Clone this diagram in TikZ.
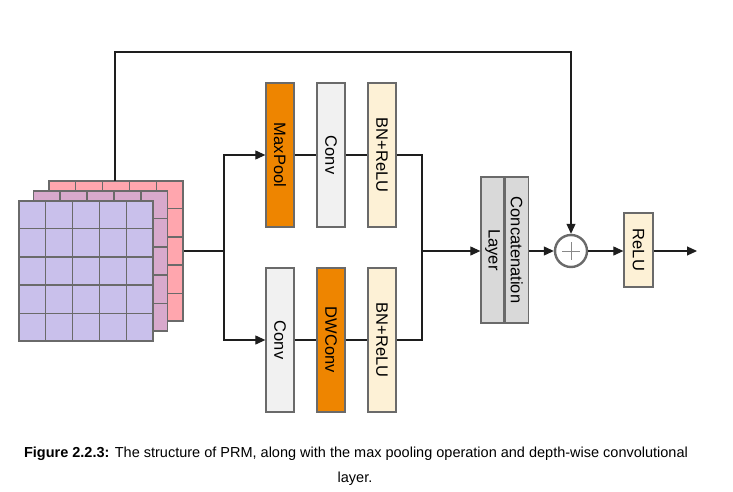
\documentclass[tikz,border=0pt]{standalone}
\usepackage{fontspec}
\setmainfont{Liberation Sans}
\usetikzlibrary{arrows.meta,calc}
\definecolor{pinkc}{HTML}{FFA6AE}
\definecolor{mauvec}{HTML}{D8A9CC}
\definecolor{lavc}{HTML}{C9C0EB}
\definecolor{orangec}{HTML}{EE8500}
\definecolor{convc}{HTML}{F1F1F1}
\definecolor{bnc}{HTML}{FDF1D6}
\definecolor{catc}{HTML}{D9D9D9}
\definecolor{edgec}{HTML}{6A6A6A}
\definecolor{linec}{HTML}{1E1E1E}
\tikzset{
  layerbox/.style={draw=edgec, line width=1.3pt, minimum width=28pt, minimum height=144pt, inner sep=0pt,
    font=\fontsize{16.5}{18}\selectfont},
  gridbox/.style={draw=edgec, line width=1.3pt, minimum width=134pt, minimum height=140pt, inner sep=0pt},
  gridline/.style={draw=edgec, line width=1.3pt},
  conn/.style={draw=linec, line width=1.1pt},
  arr/.style={conn, -{Triangle[length=10pt,width=9pt]}},
}
\begin{document}
\begin{tikzpicture}[x=1pt,y=-1pt]
\useasboundingbox (0,0) rectangle (733,492);
% feature map stack (back to front)
\foreach \g/\gx/\gy/\gc in {g3/116/251/pinkc, g2/100.5/261/mauvec, g1/86/271/lavc}{
  \node[gridbox, fill=\gc] (\g) at (\gx,\gy) {};
  \foreach \i in {1,...,4}{
    \draw[gridline] ($(\g.north west)!\i/5!(\g.north east)$) -- ($(\g.south west)!\i/5!(\g.south east)$);
    \draw[gridline] ($(\g.north west)!\i/5!(\g.south west)$) -- ($(\g.north east)!\i/5!(\g.south east)$);
  }
}
% branches
\node[layerbox, fill=orangec] (mp) at (280,155) {\rotatebox{-90}{MaxPool}};
\node[layerbox, fill=convc] (c1) at (331,155) {\rotatebox{-90}{Conv}};
\node[layerbox, fill=bnc] (b1) at (382,155) {\rotatebox{-90}{BN+ReLU}};
\node[layerbox, fill=convc] (c2) at (280,340) {\rotatebox{-90}{Conv}};
\node[layerbox, fill=orangec] (dw) at (331,340) {\rotatebox{-90}{DWConv}};
\node[layerbox, fill=bnc] (b2) at (382,340) {\rotatebox{-90}{BN+ReLU}};
\node[layerbox, fill=catc, minimum width=23pt, minimum height=146pt] (catL) at (492.5,250) {\rotatebox{-90}{Layer}};
\node[layerbox, fill=catc, minimum width=23pt, minimum height=146pt, anchor=west] (catR) at (catL.east) {\rotatebox{-90}{Concatenation}};
\node[draw=edgec, line width=2.4pt, circle, minimum size=32pt, inner sep=0pt, fill=white] (plus) at (571,251) {};
\draw[edgec!80, line width=0.7pt] ($(plus.center)+(-9,0)$) -- ($(plus.center)+(9,0)$);
\draw[edgec!80, line width=0.7pt] ($(plus.center)+(0,-9)$) -- ($(plus.center)+(0,9)$);
\node[layerbox, fill=bnc, minimum width=29pt, minimum height=74pt] (relu) at (638.5,250) {\rotatebox{-90}{ReLU}};
\coordinate (split) at (224,251);
\coordinate (merge) at (422,251);
\coordinate (out) at (697,251);
\coordinate (tstart) at (115,181);
\coordinate (tcorner) at (115,52);
% connectors
\draw[conn] (g3.east |- split) -- (split);
\draw[arr] (split) |- (mp.west);
\draw[arr] (split) |- (c2.west);
\draw[conn] (mp.east) -- (c1.west);
\draw[conn] (c1.east) -- (b1.west);
\draw[conn] (c2.east) -- (dw.west);
\draw[conn] (dw.east) -- (b2.west);
\draw[conn] (b1.east) -| (merge);
\draw[conn] (b2.east) -| (merge);
\draw[arr] (merge) -- (catL.west |- merge);
\draw[arr] (catR.east |- plus) -- (plus.west);
\draw[arr] (plus.east) -- (relu.west |- plus);
\draw[arr] (relu.east |- plus) -- (out);
\draw[arr] (tstart) -- (tcorner) -| (plus.north);
% caption
\node[font=\fontsize{14.5}{17}\selectfont, inner sep=0pt] (cap1) at (356,454) {\textbf{Figure 2.2.3:} The structure of PRM, along with the max pooling operation and depth-wise convolutional};
\node[font=\fontsize{14.5}{17}\selectfont, inner sep=0pt] (cap2) at (355,479) {layer.};
\end{tikzpicture}
\end{document}
